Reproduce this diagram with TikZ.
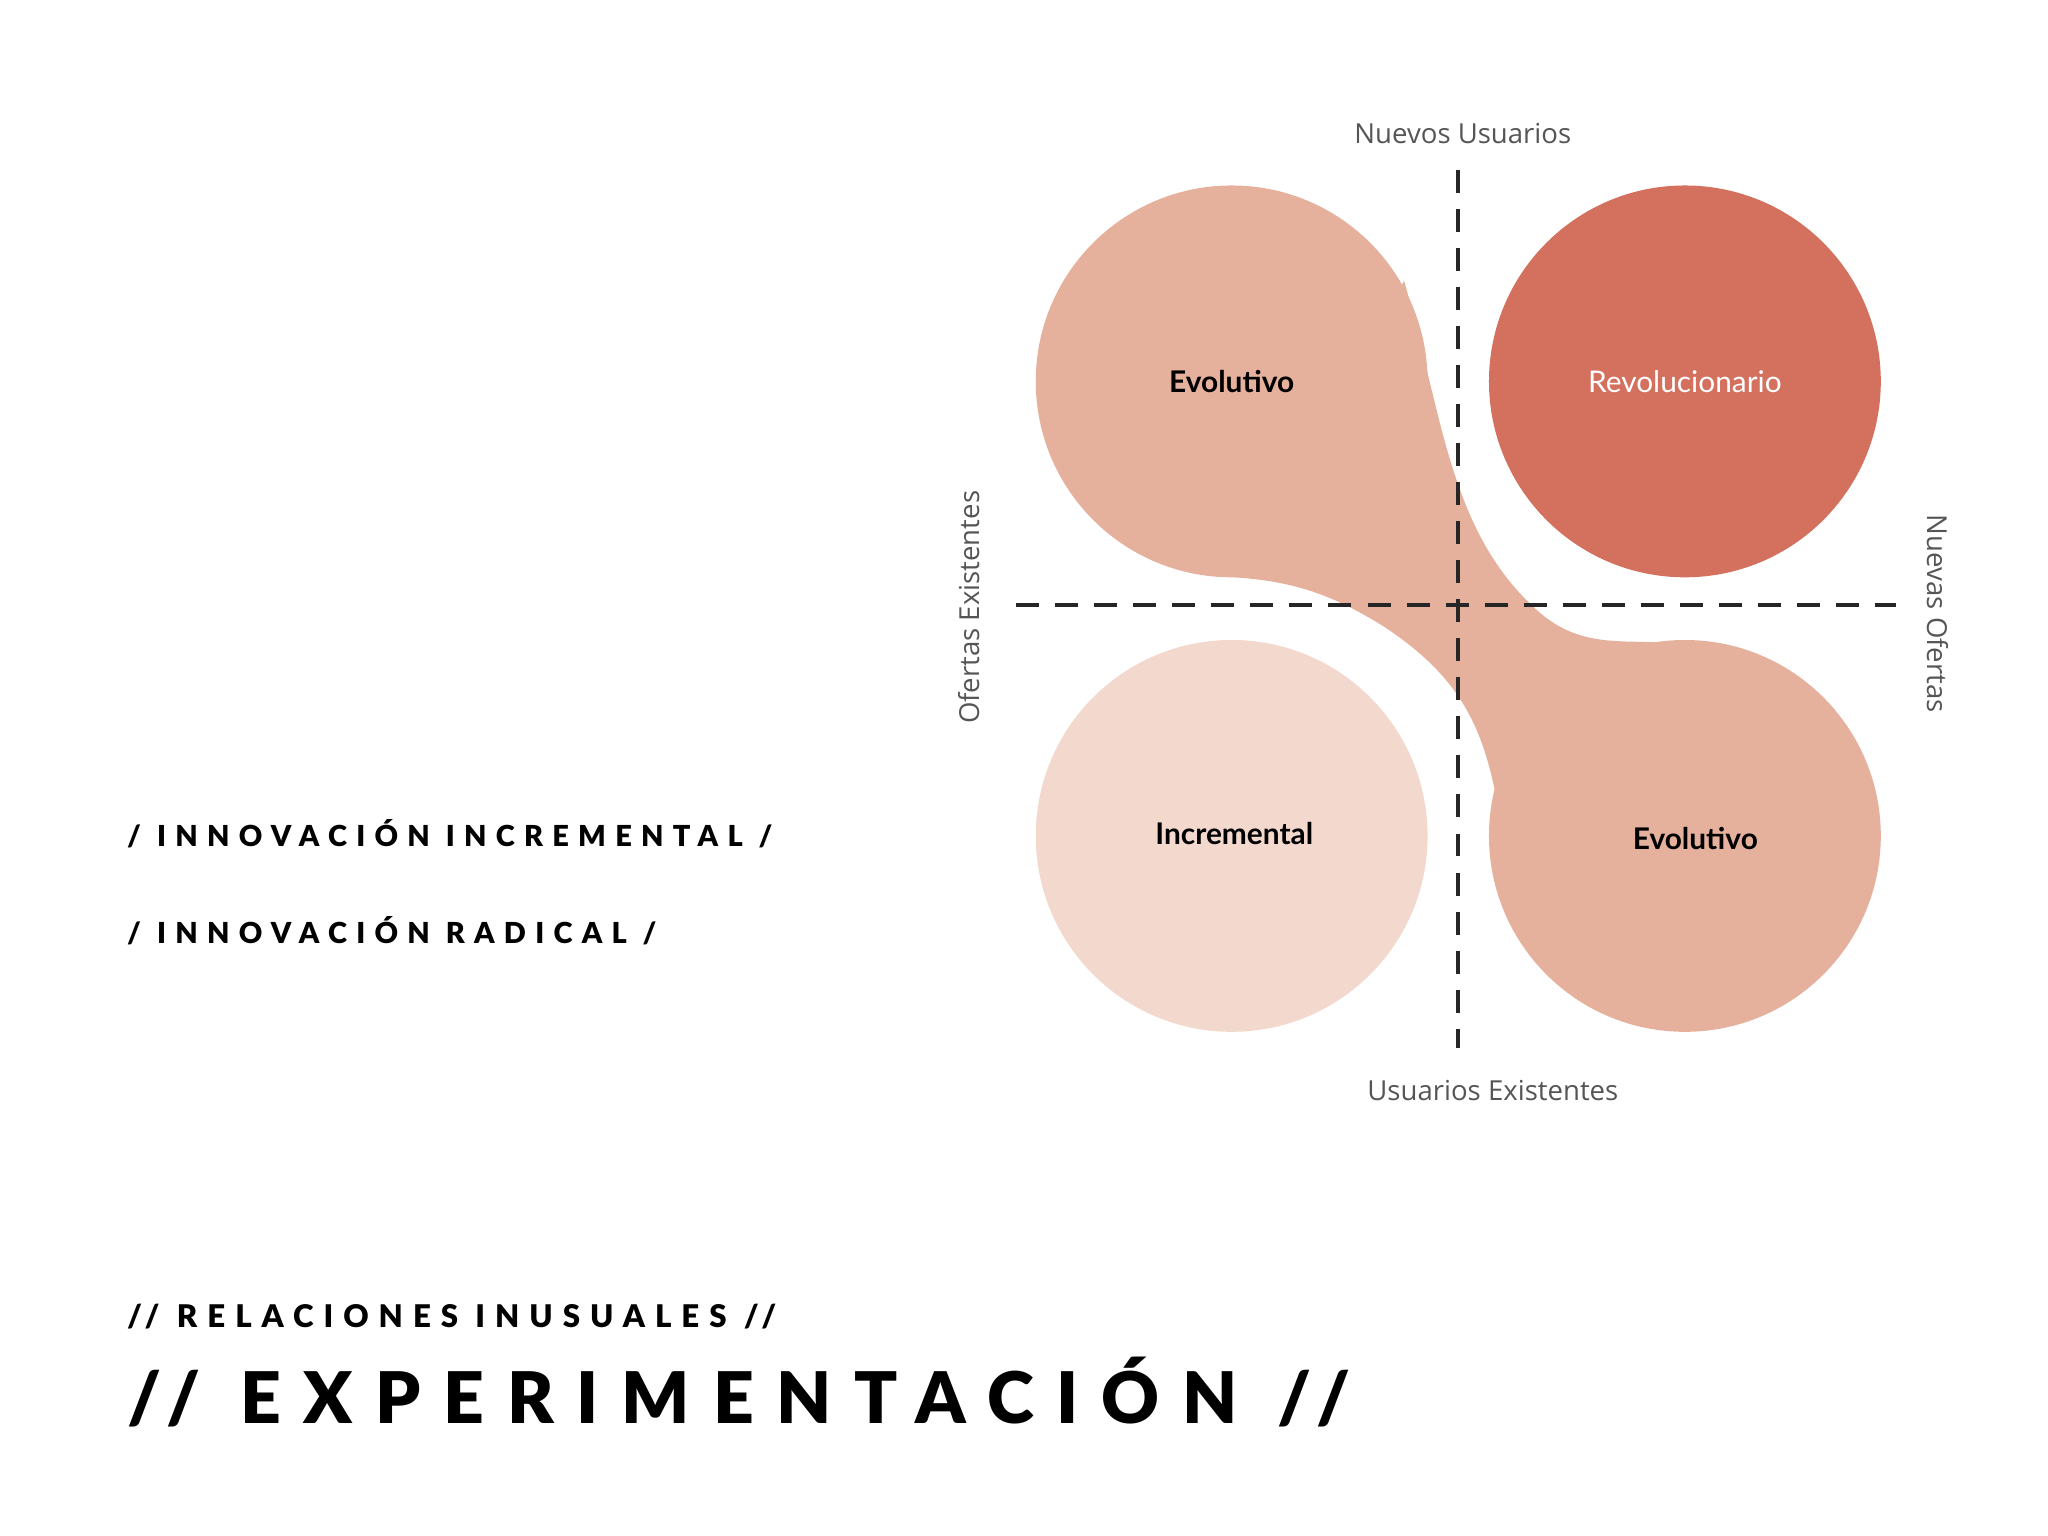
\documentclass[tikz,border=0pt]{standalone}
\usepackage{fontspec}
\setmainfont{Lato}
\newfontfamily\lab{Open Sans}
\newfontfamily\hd[LetterSpace=32]{Lato Black}
\definecolor{evo}{HTML}{E5B09C}
\definecolor{rev}{HTML}{D3705E}
\definecolor{inc}{HTML}{F3D8CD}
\definecolor{lbl}{HTML}{555555}
\begin{document}
\begin{tikzpicture}[x=0.01cm,y=-0.01cm,
  axis/.style={line width=0.9pt,dash pattern=on 5pt off 3.5pt,color=black!85},
  axlab/.style={font=\lab\fontsize{6}{7}\selectfont,text=lbl},
  clab/.style={font=\fontsize{6.5}{8}\selectfont\bfseries},
  head/.style={anchor=base west,font=\hd\fontsize{6.3}{8}\selectfont}]
\useasboundingbox (0,0) rectangle (1568,1176);
\fill[evo] (1075,215) .. controls (1105,320) and (1110,410) .. (1180,470) .. controls (1210,495) and (1240,490) .. (1270,492)
  -- (1150,640) .. controls (1140,560) and (1120,520) .. (1060,480) .. controls (1020,455) and (990,445) .. (945,442) -- cycle;
\node[circle,fill=evo,minimum size=300*0.01cm,inner sep=0] (tl) at (943,292) {};
\node[circle,fill=rev,minimum size=300*0.01cm,inner sep=0] (tr) at (1290,292) {};
\node[circle,fill=inc,minimum size=300*0.01cm,inner sep=0] (bl) at (943,640) {};
\node[circle,fill=evo,minimum size=300*0.01cm,inner sep=0] (br) at (1290,640) {};
\node[clab] at (tl) {Evolutivo};
\node[clab,text=white,font=\fontsize{6.5}{8}\selectfont] at (tr) {Revolucionario};
\node[clab] at (945,638) {Incremental};
\node[clab] at (1298,642) {Evolutivo};
\coordinate (vt) at (1116,130); \coordinate (vb) at (1116,802);
\coordinate (hl) at (778,463); \coordinate (hr) at (1452,463);
\draw[axis] (vt) -- (vb);
\draw[axis] (hl) -- (hr);
\node[axlab] (nu) at (1120,102) {Nuevos Usuarios};
\node[axlab] (ue) at (1143,835) {Usuarios Existentes};
\node[axlab,rotate=90] (oe) at (742,465) {Ofertas Existentes};
\node[axlab,rotate=-90] (no) at (1484,470) {Nuevas Ofertas};
\node[head] (h1) at (85,648) {/ INNOVACIÓN INCREMENTAL /};
\node[head] (h2) at (85,722) {/ INNOVACIÓN RADICAL /};
\node[head,font=\hd\fontsize{6.8}{8}\selectfont] (h3) at (85,1016) {// RELACIONES INUSUALES //};
\node[head,font=\hd\fontsize{15.5}{18}\selectfont] (h4) at (85,1090) {// EXPERIMENTACIÓN //};
\end{tikzpicture}
\end{document}
